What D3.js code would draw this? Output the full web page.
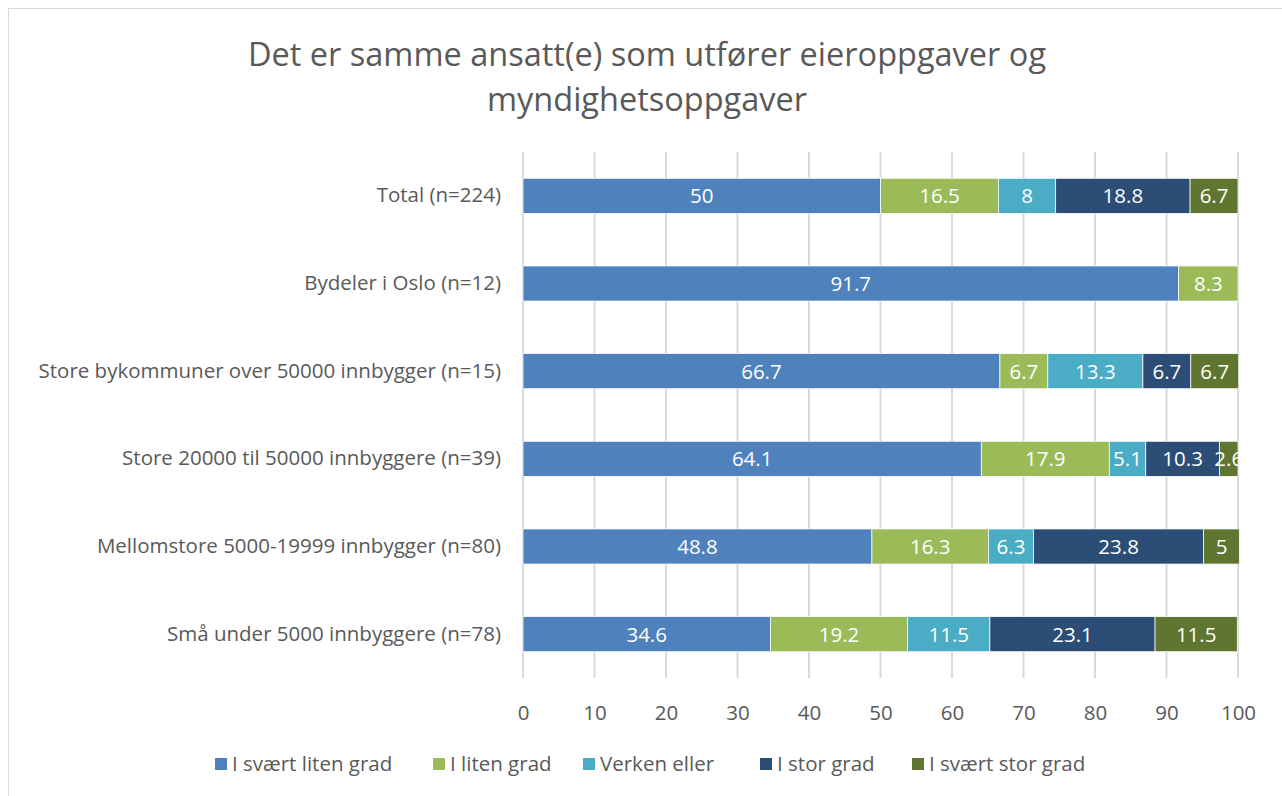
<!DOCTYPE html>
<html>
<head>
<meta charset="utf-8">
<script src="https://cdn.jsdelivr.net/npm/d3@7"></script>
<style>
  body { margin: 0; background: #fff; }
  text { font-family: "Open Sans", "Liberation Sans", sans-serif; fill: #595959; }
</style>
</head>
<body>
<div id="chart"></div>
<script>
// categories (top to bottom)
var categories = ["Total (n=224)", "Bydeler i Oslo (n=12)", "Store bykommuner over 50000 innbygger (n=15)",
                  "Store 20000 til 50000 innbyggere (n=39)", "Mellomstore 5000-19999 innbygger (n=80)",
                  "Små under 5000 innbyggere (n=78)"];
var seriesNames = ["I svært liten grad", "I liten grad", "Verken eller", "I stor grad", "I svært stor grad"];
var colors = ["#4F81BD", "#9BBB59", "#4BACC6", "#2C4D75", "#5F7530"];

// values per series, one per category
var svaertLiten = [50, 91.7, 66.7, 64.1, 48.8, 34.6];
var liten       = [16.5, 8.3, 6.7, 17.9, 16.3, 19.2];
var verken      = [8, 0, 13.3, 5.1, 6.3, 11.5];
var stor        = [18.8, 0, 6.7, 10.3, 23.8, 23.1];
var svaertStor  = [6.7, 0, 6.7, 2.6, 5, 11.5];
var xTicks = [0, 10, 20, 30, 40, 50, 60, 70, 80, 90, 100];

var width = 1282, height = 796;
var fs = "20.5px";
var svg = d3.select("#chart").append("svg")
    .attr("width", width)
    .attr("height", height);

// chart frame
svg.append("rect")
    .attr("x", 8.5).attr("y", 8.5)
    .attr("width", width + 10).attr("height", height + 10)
    .attr("fill", "none").attr("stroke", "#d9d9d9");

// title
var title = ["Det er samme ansatt(e) som utfører eieroppgaver og", "myndighetsoppgaver"];
svg.selectAll(".title").data(title).enter().append("text")
    .attr("class", "title")
    .attr("x", 647)
    .attr("y", function(d, i) { return 66 + i * 45; })
    .attr("text-anchor", "middle")
    .style("font-size", "32.5px")
    .text(function(d) { return d; });

var margin = { top: 152, left: 523, right: 44, bottom: 118 };
var plotW = width - margin.left - margin.right;
var plotH = height - margin.top - margin.bottom;

var panel = svg.append("g")
    .attr("transform", "translate(" + margin.left + "," + margin.top + ")");

var xScale = d3.scaleLinear().domain([0, 100]).range([0, plotW]);
var yScale = d3.scaleBand().domain(categories).range([0, plotH]).paddingInner(0.6).paddingOuter(0.3);

// gridlines
panel.selectAll(".grid").data(xTicks).enter().append("line")
    .attr("x1", function(d) { return xScale(d); })
    .attr("x2", function(d) { return xScale(d); })
    .attr("y1", 0).attr("y2", plotH)
    .attr("stroke", "#d9d9d9").attr("stroke-width", 2);

// x axis
var xAxis = d3.axisBottom(xScale).tickValues(xTicks).tickSize(0).tickPadding(27);
var gx = panel.append("g").attr("transform", "translate(0," + plotH + ")").call(xAxis);
gx.select(".domain").remove();
gx.selectAll("text").style("font-size", fs).attr("fill", "#595959");

// y axis labels
var yAxis = d3.axisLeft(yScale).tickSize(0).tickPadding(22);
var gy = panel.append("g").call(yAxis);
gy.select(".domain").remove();
gy.selectAll("text").style("font-size", fs).attr("fill", "#595959");

// stack data
var allValues = [svaertLiten, liten, verken, stor, svaertStor];
var rows = categories.map(function(c, i) {
  var r = { cat: c };
  seriesNames.forEach(function(s, j) { r[s] = allValues[j][i]; });
  return r;
});
var stacked = d3.stack().keys(seriesNames)(rows);

var layers = panel.selectAll(".layer").data(stacked).enter().append("g")
    .attr("fill", function(d, i) { return colors[i]; });

layers.selectAll("rect").data(function(d) { return d.filter(function(p) { return p[1] - p[0] > 0; }); })
  .enter().append("rect")
    .attr("x", function(d) { return xScale(d[0]); })
    .attr("y", function(d) { return yScale(d.data.cat); })
    .attr("width", function(d) { return xScale(d[1]) - xScale(d[0]); })
    .attr("height", yScale.bandwidth())
    .attr("stroke", "#fff").attr("stroke-width", 0.75);

layers.selectAll(".lbl").data(function(d) { return d.filter(function(p) { return p[1] - p[0] > 0; }); })
  .enter().append("text")
    .attr("class", "lbl")
    .attr("x", function(d) { return xScale((d[0] + d[1]) / 2); })
    .attr("y", function(d) { return yScale(d.data.cat) + yScale.bandwidth() / 2; })
    .attr("dy", "0.36em")
    .attr("text-anchor", "middle")
    .style("font-size", fs)
    .style("fill", "#fff")
    .text(function(d) { return d3.format("")(+(d[1] - d[0]).toFixed(1)); });

// legend
var legendX = [215, 433, 583, 760, 912];
var legend = svg.selectAll(".legend").data(seriesNames).enter().append("g")
    .attr("transform", function(d, i) { return "translate(" + legendX[i] + ",764)"; });
legend.append("rect")
    .attr("x", 0).attr("y", -6).attr("width", 12).attr("height", 12)
    .attr("fill", function(d, i) { return colors[i]; });
legend.append("text")
    .attr("x", 17).attr("dy", "0.36em")
    .style("font-size", fs)
    .text(function(d) { return d; });
</script>
</body>
</html>
